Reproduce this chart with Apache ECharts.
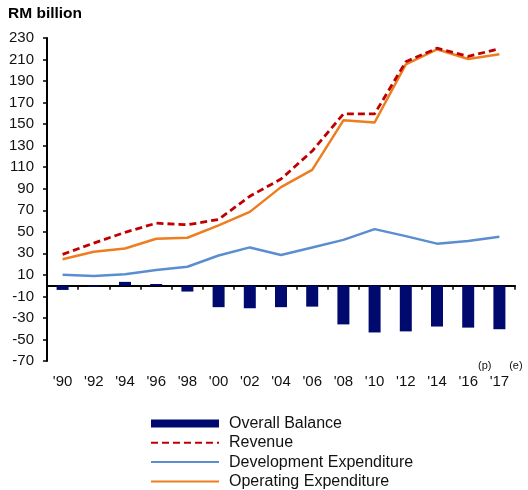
<!DOCTYPE html>
<html>
<head>
<meta charset="utf-8">
<script src="https://cdn.jsdelivr.net/npm/echarts@6/dist/echarts.min.js"></script>
<style>
html,body{margin:0;padding:0;background:#fff;}
#c{width:528px;height:490px;}
</style>
</head>
<body>
<div id="c"></div>
<script>
var categories = ["'90","'92","'94","'96","'98","'00","'02","'04","'06","'08","'10","'12","'14","'16","'17"];
var superscripts = {"'16": "(p)", "'17": "(e)"};
var overallBalance = [-4, -1, 3.5, 1.5, -5.5, -20, -21, -20, -19.5, -36, -43.5, -42.5, -38, -39, -40.5];
var revenue = [29, 39.5, 49.5, 58, 56.5, 61.5, 83, 99, 125, 159.5, 159.5, 208, 220.5, 213, 220];
var developmentExpenditure = [10, 9, 10.5, 14.5, 17.5, 28, 35.5, 28.5, 35.5, 42.5, 52.5, 46, 39, 41.5, 45.5];
var operatingExpenditure = [24.5, 31.5, 34.5, 43.5, 44.5, 56, 68.5, 91.5, 107.5, 153.5, 151.5, 205.5, 219.5, 210.5, 215];
var yMin = -70, yMax = 230, yStep = 20;
var seriesNames = ["Overall Balance", "Revenue", "Development Expenditure", "Operating Expenditure"];

var FONT = "'Liberation Sans', Arial, sans-serif";
var hiddenSymbol = {opacity: 0};
var chart = echarts.init(document.getElementById('c'), null, {renderer: 'canvas'});
chart.setOption({
  animation: false,
  backgroundColor: '#ffffff',
  title: {
    text: 'RM billion', left: 3, top: 1,
    textStyle: {fontFamily: FONT, fontSize: 15.5, fontWeight: 'bold', color: '#000'}
  },
  grid: {left: 47, right: 13, top: 38, bottom: 129, containLabel: false},
  legend: {
    orient: 'vertical', left: 150, top: 415.5, height: 100, padding: 0,
    itemWidth: 68, itemHeight: 8, itemGap: 3.3,
    data: [
      {name: seriesNames[0], icon: 'rect'},
      {name: seriesNames[1], itemStyle: hiddenSymbol},
      {name: seriesNames[2], itemStyle: hiddenSymbol},
      {name: seriesNames[3], itemStyle: hiddenSymbol}
    ],
    textStyle: {fontFamily: FONT, fontSize: 16, color: '#111', lineHeight: 14, padding: [0, 0, 0, 5]}
  },
  xAxis: [{
    type: 'category', data: categories, boundaryGap: true,
    axisLine: {show: true, onZero: true, lineStyle: {color: '#000', width: 2}},
    axisTick: {show: true, inside: false, length: 4, lineStyle: {color: '#000', width: 1.5}},
    axisLabel: {show: false},
    splitLine: {show: false}
  }, {
    type: 'category', data: categories, boundaryGap: true, position: 'bottom',
    axisLine: {show: false, onZero: false},
    axisTick: {show: false},
    splitLine: {show: false},
    axisLabel: {
      show: true, interval: 0, margin: -1,
      formatter: function (v) {
        var s = superscripts[v];
        if (s) return '{pad|' + s + '}{m|' + v + '}{sup|' + s + '}';
        return '{m|' + v + '}';
      },
      rich: {
        m: {fontFamily: FONT, fontSize: 15, color: '#111', lineHeight: 44},
        sup: {fontFamily: FONT, fontSize: 11, color: '#111', lineHeight: 12, verticalAlign: 'top'},
        pad: {fontFamily: FONT, fontSize: 11, color: 'rgba(0,0,0,0)', lineHeight: 12, verticalAlign: 'top'}
      }
    }
  }],
  yAxis: {
    type: 'value', min: yMin, max: yMax, interval: yStep,
    axisLine: {show: true, lineStyle: {color: '#000', width: 2}},
    axisTick: {show: true, inside: false, length: 4, lineStyle: {color: '#000', width: 1.5}},
    axisLabel: {fontFamily: FONT, fontSize: 15, color: '#111', margin: 13},
    splitLine: {show: false}
  },
  series: [{
    name: seriesNames[0], type: 'bar', data: overallBalance, barWidth: 12,
    itemStyle: {color: '#000a6e'}, z: 2
  }, {
    name: seriesNames[2], type: 'line', data: developmentExpenditure, symbol: 'none',
    lineStyle: {color: '#5a8ed0', width: 2.5}, itemStyle: {color: '#5a8ed0'}, z: 3
  }, {
    name: seriesNames[3], type: 'line', data: operatingExpenditure, symbol: 'none',
    lineStyle: {color: '#ee7d1f', width: 2.5}, itemStyle: {color: '#ee7d1f'}, z: 3
  }, {
    name: seriesNames[1], type: 'line', data: revenue, symbol: 'none',
    lineStyle: {color: '#c00000', width: 2.8, type: [7, 4]}, itemStyle: {color: '#c00000'}, z: 4
  }]
});
</script>
</body>
</html>
